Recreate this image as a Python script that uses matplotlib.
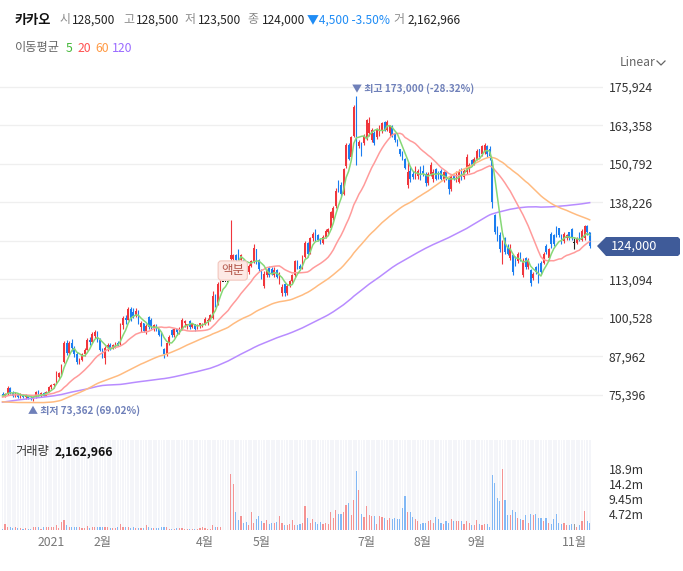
import numpy as np
import pandas as pd
import matplotlib
matplotlib.use('Agg')
import matplotlib.pyplot as plt
from matplotlib.patches import Polygon
from matplotlib.lines import Line2D

plt.rcParams['font.family'] = ['Noto Sans CJK KR', 'DejaVu Sans']

# ---- data (won, split adjusted) ----
opens = [
    75600, 75300, 75800, 77600, 76000, 75200, 75800, 74800, 75500, 74600,
    75300, 74500, 74200, 74700, 76200, 75500, 75900, 75200, 76500, 78000,
    78500, 79000, 81400, 82400, 86000, 92400, 89000, 92200, 90600, 88600,
    86200, 86800, 88800, 90200, 93400, 92600, 94600, 96000, 93400, 90200,
    87400, 90800, 91800, 90800, 91600, 92200, 92000, 98200, 100400, 100000,
    103400, 102600, 101200, 102800, 97400, 98800, 96400, 100800, 99800, 97400,
    98200, 96800, 95000, 90400, 88600, 92200, 96600, 94800, 96800, 95800,
    97000, 99000, 98000, 99400, 97600, 98400, 97000, 98200, 98000, 98600,
    99600, 100000, 100600, 107800, 105000, 110000, 112400, 112400, 112400, 119800,
    119800, 121000, 122500, 119500, 119500, 118500, 115500, 117500, 119000, 123000,
    119500, 116000, 111000, 114500, 117000, 116500, 114500, 116000, 112500, 108500,
    111500, 108500, 111000, 112500, 114500, 119000, 117500, 117000, 120500, 125000,
    122000, 126500, 129000, 127500, 126000, 125000, 127000, 128500, 130000, 133000,
    137000, 145000, 144000, 141000, 150000, 157000, 153000, 160000, 170000, 156500,
    157500, 157500, 159000, 161000, 158500, 161000, 159500, 160500, 161500, 164500,
    162000, 161000, 163000, 160500, 158500, 155500, 154500, 152500, 144000, 148500,
    147500, 146500, 147000, 149000, 148500, 147500, 144500, 147500, 146000, 149000,
    148000, 148500, 145500, 148000, 146000, 142500, 147000, 145500, 145000, 149000,
    146500, 148000, 149000, 152000, 151000, 152500, 155500, 154000, 155000, 156500,
    155500, 152000, 134000, 130000, 127500, 121000, 126500, 123500, 120000, 121000,
    120500, 119000, 121500, 114500, 120000, 117000, 116000, 113500, 117000, 118000,
    118500, 118500, 124000, 120000, 128000, 127500, 130000, 130000, 127500, 125500,
    126500, 128500, 129500, 125000, 125000, 128000, 126000, 126500, 130500, 128500,
]
highs = [
    76400, 76000, 78200, 78000, 76600, 76200, 76000, 75900, 75800, 75600,
    75500, 75100, 74900, 76600, 77000, 76300, 76200, 76800, 78300, 78800,
    79400, 83200, 82800, 85400, 93000, 93200, 93000, 93600, 91200, 89400,
    87600, 89200, 90600, 94000, 94200, 96000, 96600, 96200, 94000, 90800,
    91400, 92400, 92200, 92000, 92600, 93000, 98800, 101000, 101400, 104000,
    104000, 103800, 103600, 103000, 99400, 98800, 98400, 101000, 100600, 98600,
    98400, 97000, 95800, 90600, 92800, 94800, 96800, 97200, 97000, 97400,
    100400, 100000, 98600, 99800, 98600, 98600, 98600, 99000, 98800, 100800,
    100400, 101800, 109200, 108400, 112400, 113000, 112400, 112400, 112400, 132600,
    121500, 121400, 122900, 121500, 119800, 118800, 118000, 119500, 124500, 123000,
    119800, 116400, 115700, 116500, 117500, 117000, 117000, 116500, 115500, 111500,
    112000, 111500, 113000, 115000, 119500, 119500, 118000, 121000, 125500, 125300,
    127000, 128500, 129500, 128000, 126500, 127500, 129500, 130000, 135500, 137000,
    143000, 145500, 145000, 149500, 157500, 157500, 160000, 170000, 173000, 158500,
    158000, 160500, 165500, 166000, 162500, 161500, 162500, 163500, 164500, 164800,
    165000, 163500, 163500, 161000, 159000, 155500, 155000, 152800, 151500, 150000,
    148500, 150000, 149000, 150000, 150500, 148000, 148000, 151500, 149000, 149500,
    148500, 149000, 148500, 148500, 146500, 147500, 147500, 148500, 149000, 149500,
    149000, 154000, 151000, 152500, 153000, 155500, 155500, 157000, 157500, 157000,
    156500, 152000, 134500, 130500, 128500, 126000, 127000, 124500, 124500, 121300,
    120600, 122000, 122000, 120000, 120300, 120000, 116500, 115500, 117500, 118500,
    119000, 122000, 124500, 123500, 128500, 127800, 130500, 130000, 127800, 128500,
    127800, 128700, 130000, 126500, 127000, 128500, 129500, 131000, 131000, 128500,
]
lows = [
    74900, 74800, 75400, 75600, 74800, 74600, 74400, 74500, 74300, 74200,
    74100, 73800, 73362, 74400, 75200, 74800, 74900, 75000, 76200, 77200,
    77800, 78800, 80600, 81800, 85800, 88400, 88600, 89800, 87800, 85600,
    85400, 86400, 88000, 90000, 91800, 92200, 94000, 92800, 89600, 87400,
    85400, 89600, 90200, 90400, 90800, 91200, 91600, 96800, 98600, 99800,
    99400, 100600, 100800, 98600, 96000, 95800, 95400, 97000, 97000, 96200,
    96400, 94600, 91400, 87400, 88200, 91800, 94200, 94400, 95000, 95400,
    96600, 97400, 97000, 97000, 97200, 96400, 96800, 97200, 97400, 98200,
    98200, 99600, 100200, 104200, 104800, 109400, 112400, 112400, 112400, 119400,
    119400, 118600, 119500, 119000, 117500, 116000, 114800, 117000, 118500, 118000,
    115800, 113200, 110200, 114000, 113800, 114500, 114000, 113500, 111500, 107800,
    107800, 108000, 110500, 112000, 114000, 116500, 116000, 116500, 120000, 120500,
    121500, 125500, 125500, 125500, 124500, 124500, 126500, 127500, 129500, 132500,
    136500, 141500, 140000, 140500, 149500, 152000, 152500, 159500, 150500, 156000,
    153500, 157000, 158500, 160000, 158000, 157000, 159000, 160000, 161000, 161500,
    161500, 160000, 159500, 158000, 156500, 153500, 152000, 149000, 143000, 145000,
    146000, 146000, 146000, 145500, 147000, 143500, 144000, 147000, 145000, 145500,
    146000, 145500, 145000, 145500, 141000, 142000, 145500, 145000, 144500, 145500,
    146000, 147500, 148000, 150000, 150500, 152000, 153000, 153500, 154000, 153000,
    152000, 136500, 128000, 125500, 122000, 118000, 121500, 121000, 119500, 114500,
    117500, 118500, 119000, 114000, 116500, 116500, 111000, 113000, 115000, 112000,
    115000, 118000, 121500, 119500, 123500, 124000, 127000, 127000, 124500, 125000,
    126000, 126000, 126000, 123000, 124500, 125500, 125500, 126000, 127500, 123500,
]
closes = [
    75300, 75800, 77800, 76000, 75200, 75800, 74800, 75500, 74600, 75300,
    74500, 74200, 74700, 76200, 75500, 75900, 75200, 76500, 78000, 78500,
    79000, 82600, 82400, 85000, 92400, 89000, 92200, 90600, 88600, 86200,
    86800, 88800, 90200, 93400, 92600, 95400, 96000, 93400, 90200, 88200,
    90800, 91800, 90800, 91600, 92200, 91800, 98200, 100400, 99800, 103400,
    100200, 101200, 102800, 99400, 98800, 96400, 97800, 97600, 97400, 98200,
    96800, 95000, 92000, 88600, 92200, 94200, 94800, 96800, 95800, 97000,
    99800, 99600, 98400, 97600, 98400, 97000, 98200, 98800, 98600, 100200,
    100000, 101400, 107800, 105000, 111600, 112400, 112400, 112400, 112400, 121200,
    121000, 119400, 120000, 121000, 118000, 116500, 117500, 119000, 123500, 119000,
    116500, 113800, 115000, 116000, 114500, 115000, 116000, 114000, 113000, 110500,
    108500, 111000, 112500, 114500, 119000, 117000, 116500, 120500, 125000, 121500,
    126500, 128000, 126000, 126000, 125000, 127000, 129000, 129500, 135000, 136500,
    142000, 142500, 141000, 149000, 157000, 152500, 159500, 169500, 158000, 158000,
    154000, 160000, 165000, 164000, 162000, 157500, 162000, 163000, 164000, 162000,
    164500, 163000, 160000, 158500, 157000, 154000, 152500, 149500, 148000, 146000,
    146500, 149500, 148500, 146000, 147500, 144500, 147500, 150500, 148000, 146000,
    146500, 146000, 148000, 146000, 142500, 147000, 146000, 148000, 148500, 146500,
    148500, 153000, 150500, 150500, 152500, 155000, 153500, 156500, 157000, 154000,
    153500, 138500, 128500, 126000, 123000, 125000, 122000, 121500, 123500, 115500,
    118000, 121500, 119500, 119000, 117000, 119500, 112000, 115000, 115500, 113000,
    115500, 121500, 122000, 123000, 124500, 124500, 127500, 127500, 125000, 128000,
    127500, 126500, 126500, 125000, 126500, 126000, 129000, 130500, 128500, 124000,
]
volumes = [
    210000, 1590000, 850000, 640000, 530000, 850000, 320000, 530000, 210000, 320000,
    210000, 210000, 850000, 850000, 640000, 210000, 640000, 850000, 850000, 850000,
    640000, 1480000, 530000, 2330000, 2970000, 1480000, 850000, 850000, 850000, 850000,
    640000, 530000, 530000, 1060000, 420000, 850000, 640000, 850000, 850000, 850000,
    640000, 640000, 530000, 320000, 530000, 850000, 1700000, 850000, 850000, 640000,
    320000, 640000, 530000, 530000, 530000, 530000, 1480000, 850000, 420000, 530000,
    530000, 420000, 850000, 850000, 850000, 210000, 210000, 210000, 320000, 530000,
    530000, 210000, 210000, 210000, 210000, 210000, 210000, 320000, 640000, 320000,
    210000, 210000, 1480000, 850000, 850000, 850000, 0, 0, 0, 17170000,
    13990000, 5300000, 2860000, 4240000, 2120000, 2330000, 1480000, 5300000, 2120000, 3390000,
    4240000, 2760000, 2120000, 2970000, 1700000, 1910000, 1910000, 2440000, 4030000, 2120000,
    1270000, 1270000, 1700000, 2970000, 1480000, 1270000, 1590000, 2120000, 7210000, 3710000,
    2120000, 3390000, 2330000, 1590000, 2330000, 1590000, 2120000, 1590000, 5510000, 3710000,
    6150000, 4880000, 4880000, 5300000, 7630000, 8160000, 4560000, 9010000, 18230000, 12190000,
    4880000, 3920000, 7210000, 4560000, 4240000, 4240000, 1800000, 4240000, 3920000, 3710000,
    3070000, 3710000, 3390000, 3710000, 3390000, 3390000, 6570000, 10390000, 5510000, 5300000,
    3920000, 3390000, 2650000, 1800000, 2120000, 2120000, 2650000, 2970000, 2120000, 3920000,
    3180000, 2120000, 1800000, 2650000, 2120000, 3390000, 2650000, 2650000, 2650000, 2650000,
    1800000, 2650000, 2120000, 1480000, 1480000, 2970000, 1800000, 1480000, 1800000, 1800000,
    850000, 16960000, 14520000, 9650000, 8800000, 18900000, 9120000, 4560000, 4560000, 6150000,
    5300000, 3710000, 3390000, 2970000, 4560000, 2120000, 4880000, 4560000, 4880000, 3710000,
    3710000, 2650000, 3710000, 2120000, 1800000, 3390000, 4880000, 2120000, 1800000, 2120000,
    1270000, 1480000, 1800000, 1800000, 850000, 1480000, 2650000, 5830000, 2650000, 2162966,
]
# closes before the first visible day (needed for the moving averages)
prior_closes = [
    60200, 61000, 60600, 61800, 62400, 61800, 62600, 63000, 62200, 63400,
    63800, 63200, 64000, 64600, 63800, 64400, 65200, 64800, 65600, 66000,
    65400, 66200, 66800, 66000, 66600, 67400, 67000, 67800, 68400, 67600,
    68200, 68800, 69400, 68600, 69200, 70000, 69600, 70400, 71000, 70600,
    82000, 84600, 86400, 87800, 88600, 87400, 88800, 87600, 86200, 87000,
    85600, 86200, 87800, 86600, 85000, 85800, 84200, 85400, 84600, 83800, 83000,
    81400, 79800, 78600, 77200, 76400, 77000, 75800, 74600, 75400, 76200,
    75000, 74200, 75600, 76400, 75200, 74400, 73600, 74800, 75400, 74000,
    73200, 72400, 71600,
    70400, 69200, 68400, 67600, 68200, 67000, 66400, 67200, 66600, 67800,
    68400, 67400, 66800, 67600, 68800, 69400,
    70800, 72200, 73000, 72400, 73600, 74400, 75200, 74600, 75800, 76400,
    75600, 74800, 75400, 74200, 75000, 75800, 74600, 75200, 74800, 75600,
]
ma_periods = [5, 20, 60, 120]
ma_colors = ['#86d877', '#ff9b9b', '#ffbb80', '#b88cff']
ma_legend_colors = ['#45b83a', '#ff5252', '#ff9a45', '#9a6bff']
price_ticks = [75396, 87962, 100528, 113094, 125660, 138226, 150792, 163358, 175924]
month_idx = [19, 39, 79, 101, 142, 164, 185, 223]
month_labels = ['2021', '2월', '4월', '5월', '7월', '8월', '9월', '11월']
split_idx = 89

W, H = 683, 571
RED, BLUE = '#f0363c', '#1a7df0'
VRED, VBLUE = '#f49393', '#82b8f5'


def fxy(x, y):
    return x / W, 1 - y / H


def main():
    o = np.array(opens, float)
    h = np.array(highs, float)
    l = np.array(lows, float)
    c = np.array(closes, float)
    v = np.array(volumes, float)
    n = len(c)
    idx = np.arange(n)

    colors = np.where(c > o, RED, np.where(c < o, BLUE, '#222222'))
    vcolors = np.where(c > o, VRED, np.where(c < o, VBLUE, '#999999'))

    fig = plt.figure(figsize=(W / 100, H / 100), dpi=100)
    xlim = (-2.5 / 2.564, (603 - 2.5) / 2.564)

    # price panel
    ax = fig.add_axes([0, 1 - 428 / H, 603 / W, (428 - 75) / H])
    ax.set_xlim(*xlim)
    ax.set_ylim(64600, 179800)
    ax.set_axisbelow(True)
    ax.grid(axis='y', color='#efefef', lw=0.9)
    for s in ax.spines.values():
        s.set_visible(False)
    ax.set_xticks([])
    ax.yaxis.tick_right()
    ax.set_yticks(price_ticks)
    ax.set_yticklabels([f'{t:,}' for t in price_ticks])
    ax.tick_params(axis='y', length=0, pad=4, labelsize=8.8, labelcolor='#333333')

    ax.vlines(idx, l, h, colors=colors, lw=0.8, zorder=3)
    body_lo = np.minimum(o, c)
    body_h = np.maximum(np.abs(c - o), 300)
    ax.bar(idx, body_h, bottom=body_lo, width=0.62, color=colors, lw=0, zorder=3)

    allc = pd.Series(prior_closes + closes, dtype=float)
    k = len(prior_closes)
    for p, col in zip(ma_periods[::-1], ma_colors[::-1]):
        ma = allc.rolling(p).mean().values[k:]
        ax.plot(idx, ma, color=col, lw=1.1, zorder=4)

    imax = int(np.argmax(h))
    imin = int(np.argmin(l))
    last = c[-1]
    ann = '#6f80b9'
    ax.annotate(f'▼ 최고 {int(h[imax]):,} ({(last / h[imax] - 1) * 100:.2f}%)',
                xy=(imax, h[imax]), xytext=(-4, 7), textcoords='offset pixels',
                ha='left', va='center', fontsize=7.2, color=ann, fontweight='bold')
    ax.annotate(f'▲ 최저 {int(l[imin]):,} ({(last / l[imin] - 1) * 100:.2f}%)',
                xy=(imin, l[imin]), xytext=(-5, -9), textcoords='offset pixels',
                ha='left', va='center', fontsize=7.2, color=ann, fontweight='bold')
    ax.text(split_idx + 0.8, 116000, '액분', ha='center', va='center', fontsize=9,
            color='#b4584c', zorder=6,
            bbox=dict(boxstyle='round,pad=0.25', fc='#fde9e5', ec='#f2c6bd', lw=0.8))

    # volume panel
    axv = fig.add_axes([0, 1 - 529.5 / H, 603 / W, 89.5 / H])
    axv.set_xlim(*xlim)
    vmax = v.max()
    axv.set_ylim(0, vmax * 89.5 / 61)
    for s in axv.spines.values():
        s.set_visible(False)
    axv.bar(idx, vmax * 89.5 / 61, width=0.72, color='#f4f5f9', lw=0, zorder=0)
    axv.bar(idx, v, width=0.45, color=vcolors, lw=0, zorder=2)
    vt = [vmax / 4 * j for j in range(1, 5)]
    axv.yaxis.tick_right()
    axv.set_yticks(vt)
    axv.set_yticklabels([f'{t / 1e6:.3g}m' for t in vt])
    axv.tick_params(axis='y', length=0, pad=4, labelsize=8.8, labelcolor='#333333')
    axv.set_xticks(month_idx)
    axv.set_xticklabels(month_labels)
    axv.tick_params(axis='x', length=0, pad=5, labelsize=8.8, labelcolor='#777777')

    # header
    hs = 8.6
    fig.text(*fxy(15, 20), '카카오', fontsize=9.5, fontweight='bold', color='#111111', va='center')
    gray, dark = '#8a8a8a', '#222222'
    parts = [(60, '시', gray), (72, f'{int(o[-1]):,}', dark),
             (123, '고', gray), (136, f'{int(h[-1]):,}', dark),
             (185, '저', gray), (198, f'{int(l[-1]):,}', dark),
             (247, '종', gray), (262, f'{int(c[-1]):,}', dark)]
    for x, t, col in parts:
        fig.text(*fxy(x, 20), t, fontsize=hs, color=col, va='center')
    chg = c[-1] - c[-2]
    fig.text(*fxy(307, 20), f'▼{int(abs(chg)):,} {chg / c[-2] * 100:.2f}%',
             fontsize=hs, color='#1f8cf5', va='center')
    fig.text(*fxy(393, 20), '거', fontsize=hs, color=gray, va='center')
    fig.text(*fxy(408, 20), f'{int(v[-1]):,}', fontsize=hs, color=dark, va='center')

    fig.text(*fxy(15, 48), '이동평균', fontsize=8.8, color='#666666', va='center')
    xs = [66, 78, 95, 112]
    for x, p, col in zip(xs, ma_periods, ma_legend_colors):
        fig.text(*fxy(x, 48), str(p), fontsize=8.8, color=col, va='center')

    fig.text(*fxy(620, 63), 'Linear', fontsize=8.8, color='#666666', va='center')
    cx = [657 / W, 661 / W, 665 / W]
    cy = [1 - 61 / H, 1 - 65 / H, 1 - 61 / H]
    fig.add_artist(Line2D(cx, cy, color='#666666', lw=0.9, transform=fig.transFigure))

    fig.text(*fxy(15, 452), '거래량', fontsize=8.8, color='#333333', va='center')
    fig.text(*fxy(55, 452), f'{int(v[-1]):,}', fontsize=8.8, color='#111111',
             va='center', fontweight='bold')

    # current price tag
    pts = [(597, 246), (606, 237), (678, 237), (680, 239), (680, 254), (678, 256), (606, 256)]
    tag = Polygon([fxy(x, y) for x, y in pts], closed=True, fc='#3f5b99', ec='none',
                  transform=fig.transFigure, zorder=5)
    fig.add_artist(tag)
    fig.text(*fxy(611, 246.5), f'{int(c[-1]):,}', fontsize=9.2, color='white',
             va='center', zorder=6)

    fig.savefig('out.png', dpi=100)


if __name__ == '__main__':
    main()
